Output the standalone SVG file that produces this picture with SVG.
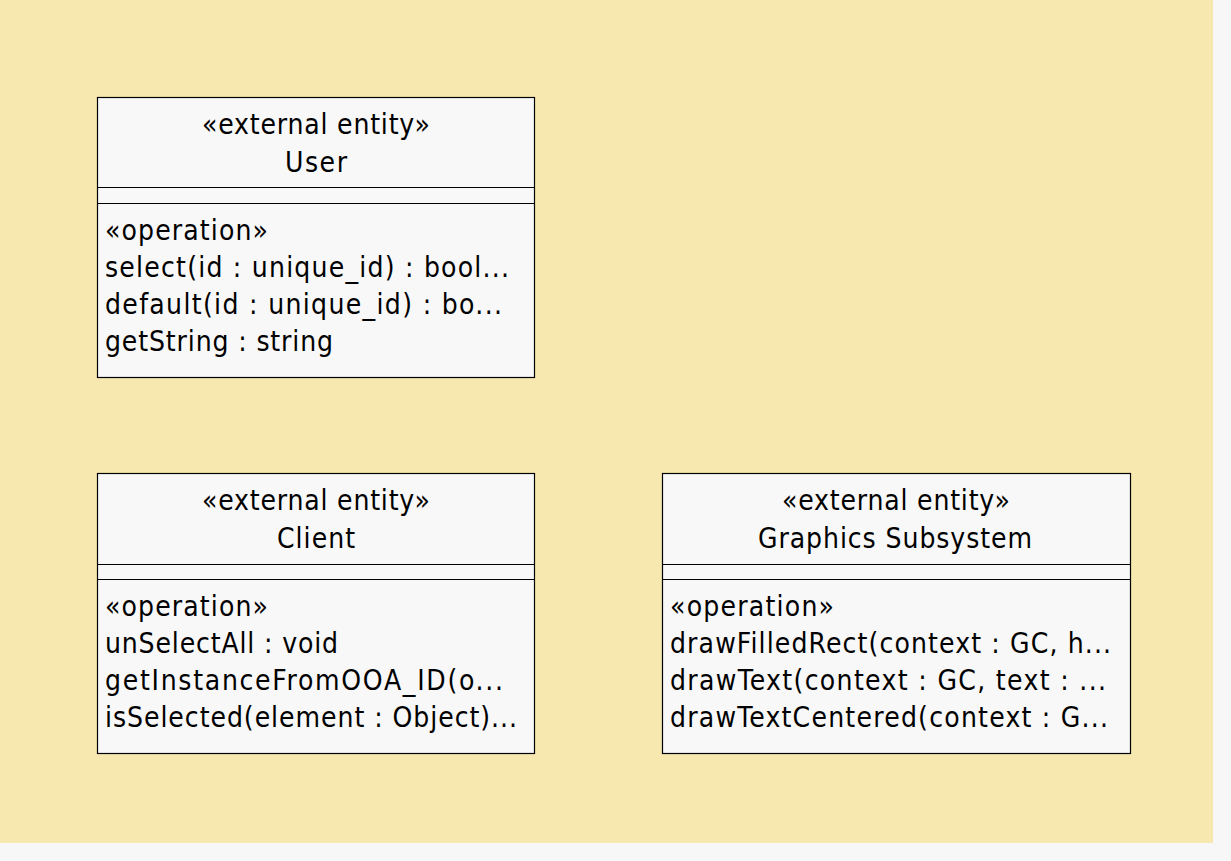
<svg xmlns="http://www.w3.org/2000/svg" width="1231" height="861" viewBox="0 0 1231 861">
<style>
.bg{fill:#f7f7f7}
.canvas{fill:#f7e8af}
.box{fill:#f8f8f8;stroke:#000;stroke-width:1.2}
.div{stroke:#000;stroke-width:1.2}
text{font-family:"DejaVu Sans Condensed","DejaVu Sans",sans-serif;font-stretch:condensed;font-size:28px;fill:#000}
.c{text-anchor:middle}
</style>
<rect class="bg" x="0" y="0" width="1231" height="861"/>
<rect class="canvas" x="0" y="0" width="1213" height="843"/>
<g id="connectors"></g>
<g id="user">
<rect class="box" x="97.5" y="97.5" width="437" height="280"/>
<line class="div" x1="97.5" y1="187.5" x2="534.5" y2="187.5"/>
<line class="div" x1="97.5" y1="203.5" x2="534.5" y2="203.5"/>
<text class="c" x="316" y="134" textLength="228" lengthAdjust="spacing">«external entity»</text>
<text class="c" x="316" y="172" textLength="62" lengthAdjust="spacing">User</text>
<text x="105" y="240" textLength="163" lengthAdjust="spacing">«operation»</text>
<text x="105" y="277" textLength="404" lengthAdjust="spacing">select(id : unique_id) : bool...</text>
<text x="105" y="314" textLength="397" lengthAdjust="spacing">default(id : unique_id) : bo...</text>
<text x="105" y="351" textLength="228" lengthAdjust="spacing">getString : string</text>
</g>
<g id="client">
<rect class="box" x="97.5" y="473.5" width="437" height="280"/>
<line class="div" x1="97.5" y1="564.5" x2="534.5" y2="564.5"/>
<line class="div" x1="97.5" y1="579.5" x2="534.5" y2="579.5"/>
<text class="c" x="316" y="510" textLength="228" lengthAdjust="spacing">«external entity»</text>
<text class="c" x="316" y="548" textLength="78" lengthAdjust="spacing">Client</text>
<text x="105" y="616" textLength="163" lengthAdjust="spacing">«operation»</text>
<text x="105" y="653" textLength="233" lengthAdjust="spacing">unSelectAll : void</text>
<text x="105" y="690" textLength="398" lengthAdjust="spacing">getInstanceFromOOA_ID(o...</text>
<text x="105" y="727" textLength="412" lengthAdjust="spacing">isSelected(element : Object)...</text>
</g>
<g id="graphics">
<rect class="box" x="662.5" y="473.5" width="468" height="280"/>
<line class="div" x1="662.5" y1="564.5" x2="1130.5" y2="564.5"/>
<line class="div" x1="662.5" y1="579.5" x2="1130.5" y2="579.5"/>
<text class="c" x="896" y="510" textLength="228" lengthAdjust="spacing">«external entity»</text>
<text class="c" x="895" y="548" textLength="274" lengthAdjust="spacing">Graphics Subsystem</text>
<text x="670" y="616" textLength="164" lengthAdjust="spacing">«operation»</text>
<text x="670" y="653" textLength="441" lengthAdjust="spacing">drawFilledRect(context : GC, h...</text>
<text x="670" y="690" textLength="436" lengthAdjust="spacing">drawText(context : GC, text : ...</text>
<text x="670" y="727" textLength="438" lengthAdjust="spacing">drawTextCentered(context : G...</text>
</g>
</svg>
